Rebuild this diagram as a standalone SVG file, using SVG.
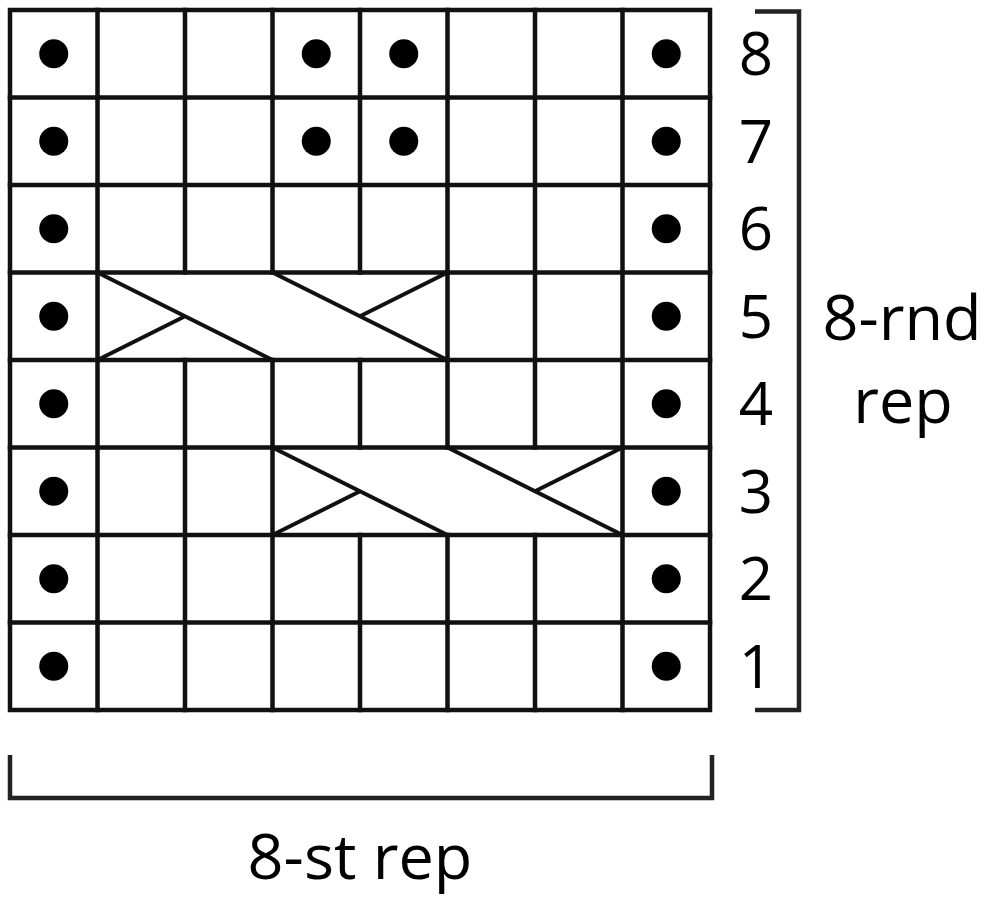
<svg xmlns="http://www.w3.org/2000/svg" width="988" height="898" viewBox="0 0 988 898">
<style>
.g{stroke:#111;stroke-width:4.5;fill:none;stroke-linecap:square}
.d{stroke:#111;stroke-width:4;fill:none;stroke-linecap:butt}
.b{stroke:#222;stroke-width:4.5;fill:none}
.dot{fill:#000}
text{font-family:"Open Sans","Noto Sans",sans-serif;font-size:60px;fill:#000;text-anchor:middle}
text.lbl{font-size:63px}
</style>
<rect width="988" height="898" fill="#fff"/>
<g id="grid">
<rect class="g" x="10" y="10" width="700" height="700"/>
<path class="g" d="M10 97.5H710M10 185H710M10 272.5H710M10 360H710M10 447.5H710M10 535H710M10 622.5H710"/>
<path class="g" d="M97.5 10V710M185 10V272.5M185 360V710M272.5 10V272.5M272.5 360V710M360 10V272.5M360 360V447.5M360 535V710M447.5 10V447.5M447.5 535V710M535 10V447.5M535 535V710M622.5 10V710"/>
</g>
<g id="cable-row5">
<path class="d" d="M97.5 272.5L272.5 360M97.5 360L185 316.25M272.5 272.5L447.5 360M447.5 272.5L360 316.25"/>
</g>
<g id="cable-row3">
<path class="d" d="M272.5 447.5L447.5 535M272.5 535L360 491.25M447.5 447.5L622.5 535M622.5 447.5L535 491.25"/>
</g>
<g id="dots">
<circle class="dot" cx="53.75" cy="53.75" r="14.5"/><circle class="dot" cx="316.25" cy="53.75" r="14.5"/><circle class="dot" cx="403.75" cy="53.75" r="14.5"/><circle class="dot" cx="666.25" cy="53.75" r="14.5"/>
<circle class="dot" cx="53.75" cy="141.25" r="14.5"/><circle class="dot" cx="316.25" cy="141.25" r="14.5"/><circle class="dot" cx="403.75" cy="141.25" r="14.5"/><circle class="dot" cx="666.25" cy="141.25" r="14.5"/>
<circle class="dot" cx="53.75" cy="228.75" r="14.5"/><circle class="dot" cx="666.25" cy="228.75" r="14.5"/>
<circle class="dot" cx="53.75" cy="316.25" r="14.5"/><circle class="dot" cx="666.25" cy="316.25" r="14.5"/>
<circle class="dot" cx="53.75" cy="403.75" r="14.5"/><circle class="dot" cx="666.25" cy="403.75" r="14.5"/>
<circle class="dot" cx="53.75" cy="491.25" r="14.5"/><circle class="dot" cx="666.25" cy="491.25" r="14.5"/>
<circle class="dot" cx="53.75" cy="578.75" r="14.5"/><circle class="dot" cx="666.25" cy="578.75" r="14.5"/>
<circle class="dot" cx="53.75" cy="666.25" r="14.5"/><circle class="dot" cx="666.25" cy="666.25" r="14.5"/>
</g>
<g id="row-numbers">
<text x="756" y="75">8</text>
<text x="756" y="162.5">7</text>
<text x="756" y="250">6</text>
<text x="756" y="337.5">5</text>
<text x="756" y="425">4</text>
<text x="756" y="512.5">3</text>
<text x="756" y="600">2</text>
<text x="756" y="687.5">1</text>
</g>
<g id="brackets">
<path class="b" d="M755 11.5H799V710H755"/>
<path class="b" d="M10 755V798H712V755"/>
</g>
<g id="labels">
<text class="lbl" x="902" y="340">8-rnd</text>
<text class="lbl" x="903" y="423">rep</text>
<text class="lbl" x="360" y="879">8-st rep</text>
</g>
</svg>
